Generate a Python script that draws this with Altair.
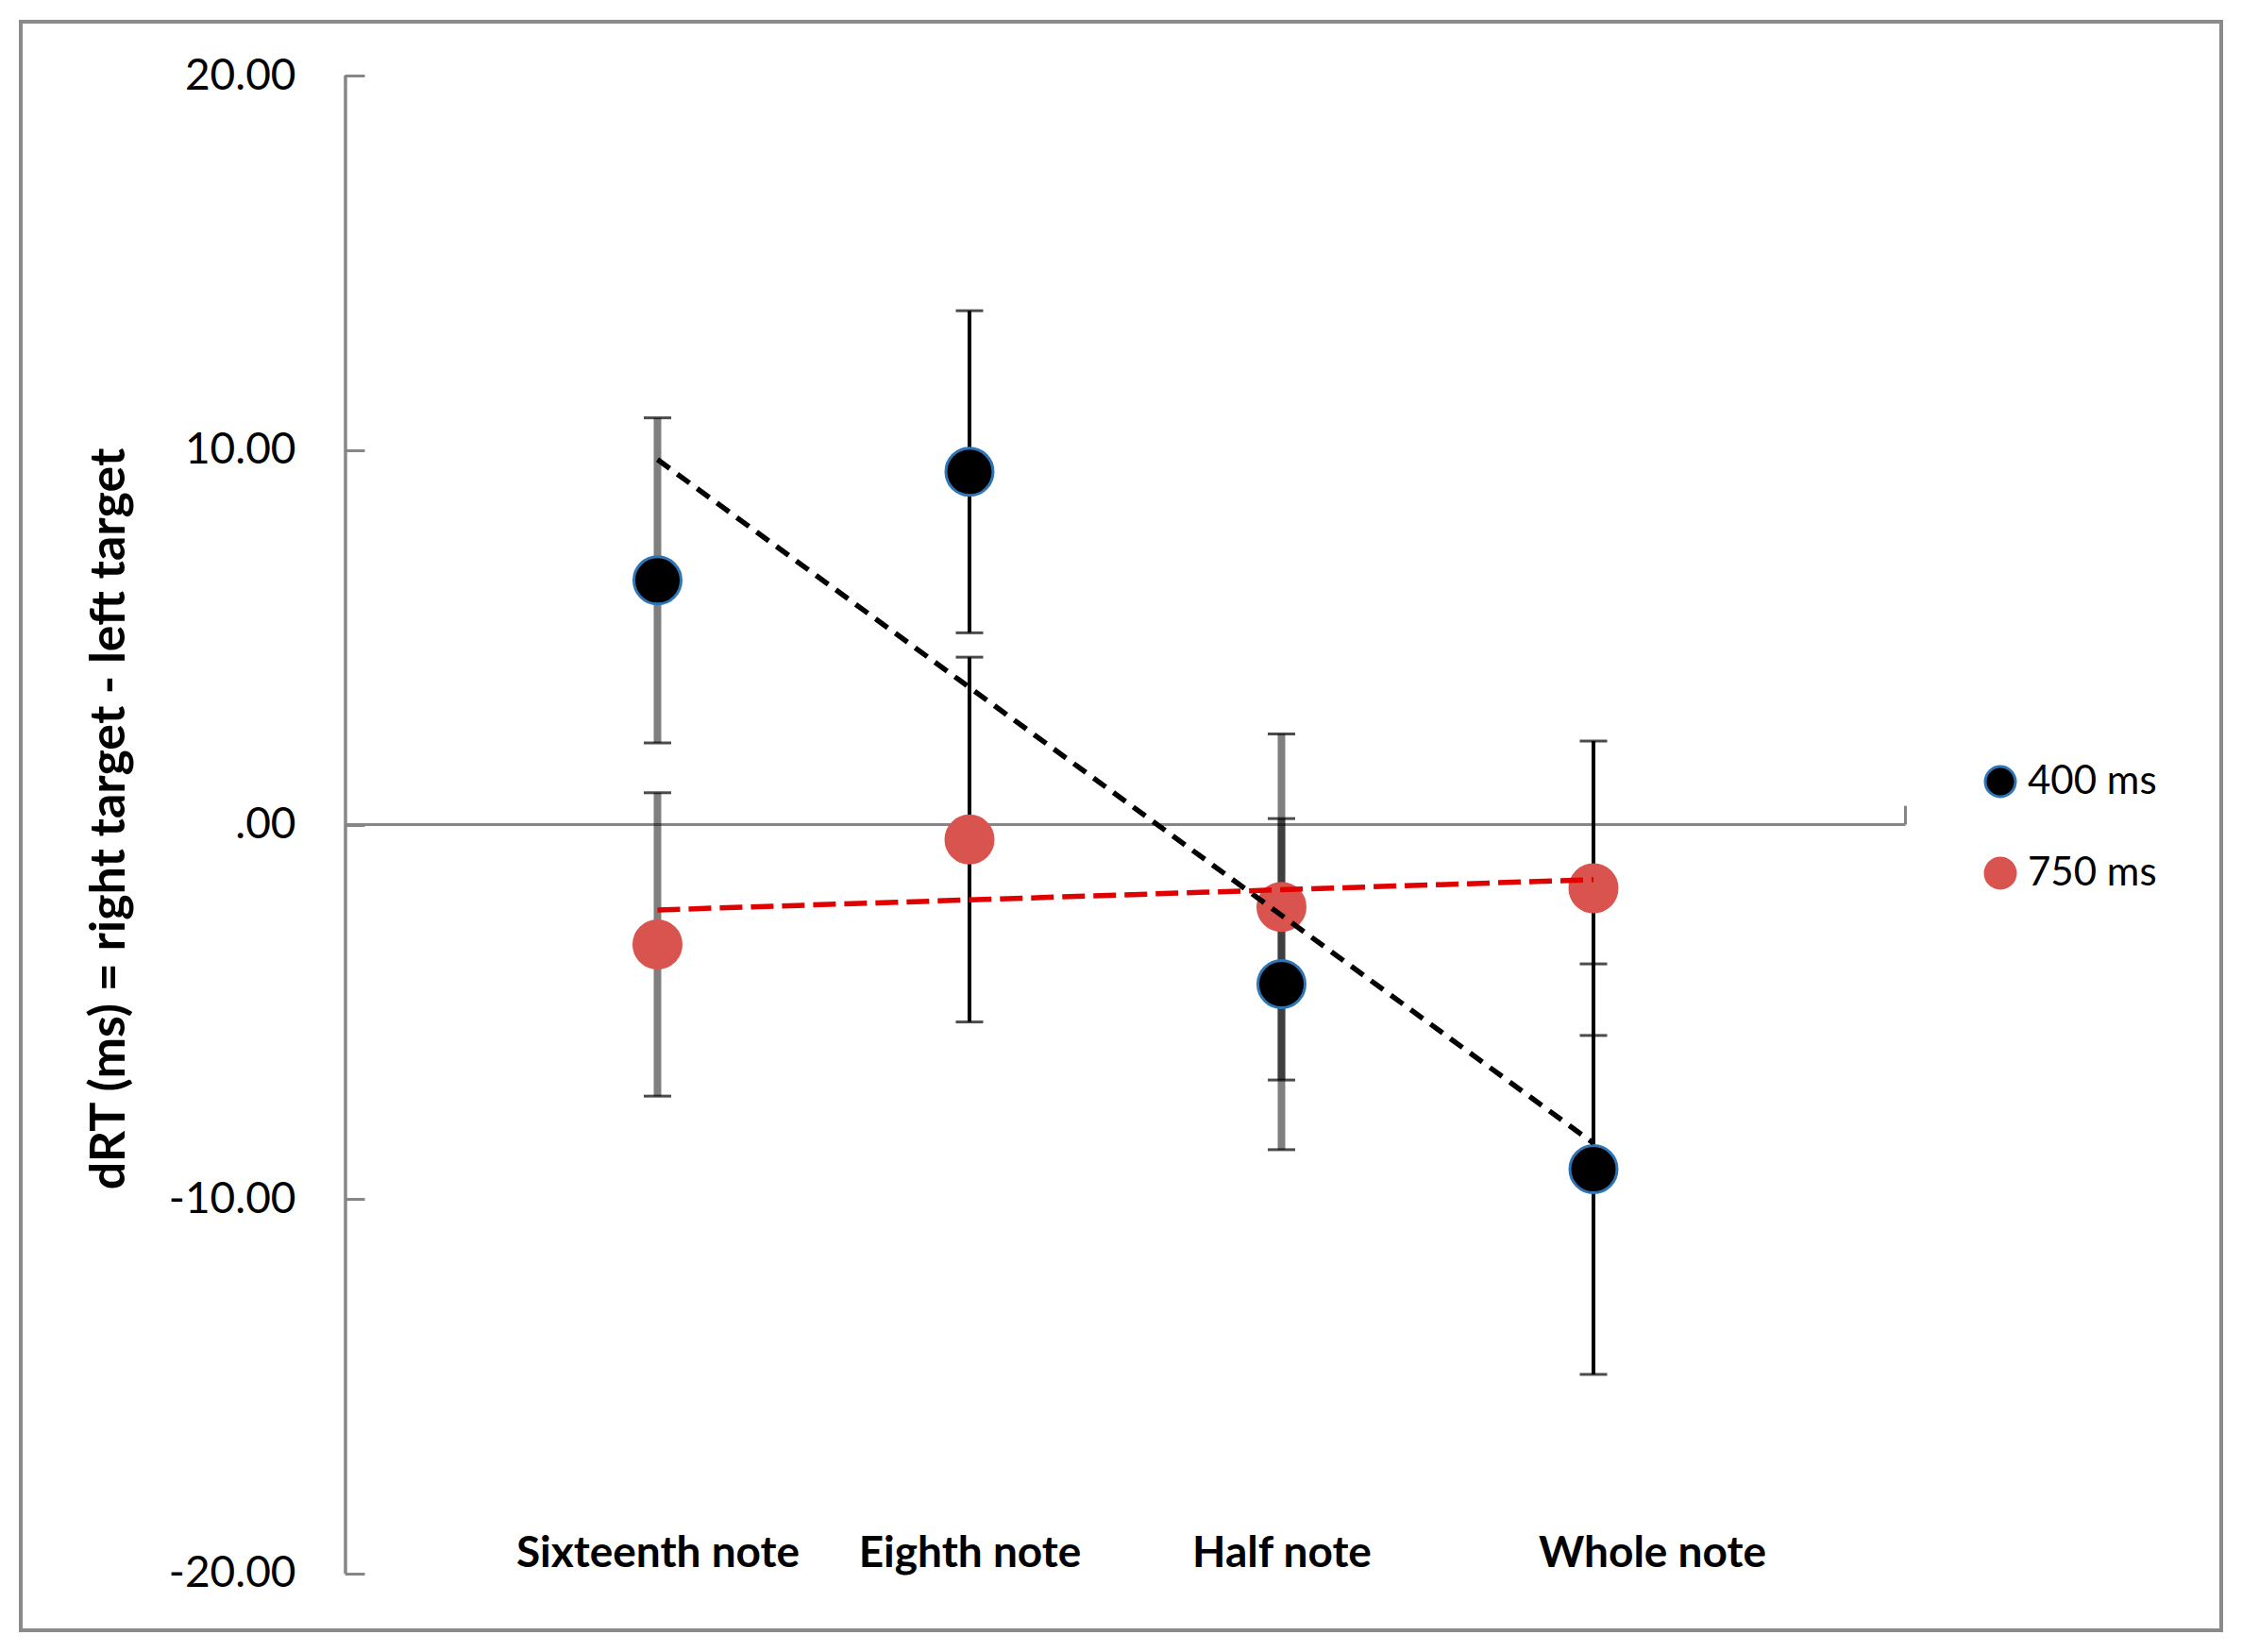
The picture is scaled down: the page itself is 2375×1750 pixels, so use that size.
import altair as alt
import pandas as pd

# ---- data ----
notes = ["Sixteenth note", "Eighth note", "Half note", "Whole note"]
note_pos = [1, 2, 3, 4]
series = ["400 ms", "750 ms"]
mean_400 = [6.52, 9.42, -4.26, -9.20]
err_400 = [4.34, 4.30, 4.42, 5.48]
mean_750 = [-3.20, -0.40, -2.20, -1.70]
err_750 = [4.05, 4.87, 4.62, 3.93]
y_ticks = [-20, -10, 0, 10, 20]
y_title = "dRT (ms) = right target - left target"

rows = []
for s, means, errs in ((series[0], mean_400, err_400), (series[1], mean_750, err_750)):
    for n, p, m, e in zip(notes, note_pos, means, errs):
        rows.append({"series": s, "note": n, "pos": p, "mean": m, "lo": m - e, "hi": m + e})
df = pd.DataFrame(rows)

FONT = "Lato"
GRAY = "#868686"

x_scale = alt.Scale(domain=[-1.0408, 6.0121], nice=False, zero=False)
y_scale = alt.Scale(domain=[-21.5123, 21.4367], nice=False, zero=False)

label_expr = "[" + ",".join("'" + n + "'" for n in [""] + notes) + "][datum.value]"

x_axis = alt.Axis(
    values=note_pos, labelExpr=label_expr, title=None, grid=False, ticks=False,
    tickSize=0, domain=False, labelFontSize=46, labelFontWeight="bold",
    labelFont=FONT, labelColor="black", labelPadding=0, offset=-104,
    labelOffset={"condition": {"test": "datum.value === 4", "value": 62}, "value": 0},
    labelFlush=False, labelOverlap=False, labelLimit=0,
)
y_axis = alt.Axis(
    values=y_ticks,
    labelExpr=("datum.value == 0 ? '.00' : (datum.value < 0 ? '-' + format(-datum.value, '.2f')"
               " : format(datum.value, '.2f'))"),
    title=y_title, titleFontSize=52, titleFontWeight="bold", titleFont=FONT,
    titleColor="black", titleX=-271, titleY=844, titleAngle=270,
    titleBaseline="middle", titleAlign="center", titleLimit=0,
    grid=False, domain=False, ticks=True, tickSize=21, tickWidth=3,
    tickColor=GRAY, labelFontSize=46, labelFont=FONT, labelColor="black",
    labelPadding=52, offset=-364, labelFlush=False, labelOverlap=False, labelLimit=0,
)


def X(field):
    return alt.X(field, type="quantitative", scale=x_scale, axis=x_axis)


def Y(field):
    return alt.Y(field, type="quantitative", scale=y_scale, axis=y_axis)


one = pd.DataFrame({"k": [0]})

# axis lines (zero line across categories, y axis line, end tick)
zero_line = alt.Chart(one).mark_rule(color=GRAY, strokeWidth=3).encode(
    x=alt.X(datum=0, type="quantitative", scale=x_scale, axis=x_axis),
    x2=alt.datum(5),
    y=alt.Y(datum=0, type="quantitative", scale=y_scale, axis=y_axis),
)
y_line = alt.Chart(one).mark_rule(color=GRAY, strokeWidth=3.5).encode(
    x=alt.X(datum=0, type="quantitative", scale=x_scale, axis=x_axis),
    y=alt.Y(datum=-20, type="quantitative", scale=y_scale, axis=y_axis),
    y2=alt.datum(20),
)
end_tick = alt.Chart(one).mark_rule(color=GRAY, strokeWidth=3).encode(
    x=alt.X(datum=5, type="quantitative", scale=x_scale, axis=x_axis),
    y=alt.Y(datum=0, type="quantitative", scale=y_scale, axis=y_axis),
    y2=alt.datum(0.5),
)

thick_test = "datum.note == '" + notes[0] + "' || datum.note == '" + notes[2] + "'"

err_rules = alt.Chart(df).mark_rule(color="black").encode(
    x=X("pos"), y=Y("lo"), y2="hi",
    strokeWidth=alt.condition(thick_test, alt.value(8), alt.value(4)),
    opacity=alt.condition(thick_test, alt.value(0.5), alt.value(1.0)),
)
cap_lo = alt.Chart(df).mark_tick(orient="horizontal", size=29, thickness=3, color="black").encode(
    x=X("pos"), y=Y("lo")
)
cap_hi = alt.Chart(df).mark_tick(orient="horizontal", size=29, thickness=3, color="black").encode(
    x=X("pos"), y=Y("hi")
)

legend = alt.Legend(
    title=None, orient="none", legendX=2076, legendY=784, labelFontSize=42,
    labelFont=FONT, labelColor="black", symbolSize=1024, symbolStrokeWidth=3,
    labelOffset=8, rowPadding=53, padding=0, symbolType="circle",
)

points = alt.Chart(df).mark_circle(size=2500, opacity=1, strokeWidth=3).encode(
    x=X("pos"), y=Y("mean"),
    fill=alt.Fill("series:N", scale=alt.Scale(domain=series, range=["#000000", "#D9534F"]), legend=legend),
    stroke=alt.Stroke("series:N", scale=alt.Scale(domain=series, range=["#2E75B6", "#D9534F"]), legend=legend),
)

trend_400 = alt.Chart(df).transform_filter(
    alt.datum.series == series[0]
).transform_regression("pos", "mean").mark_line(
    color="black", strokeDash=[16, 10], strokeWidth=5.5
).encode(x=X("pos"), y=Y("mean"))

trend_750 = alt.Chart(df).transform_filter(
    alt.datum.series == series[1]
).transform_regression("pos", "mean").mark_line(
    color="#E00000", strokeDash=[24, 9], strokeWidth=5.5
).encode(x=X("pos"), y=Y("mean"))

chart = alt.layer(
    zero_line, y_line, end_tick, err_rules, cap_lo, cap_hi, points, trend_400, trend_750
).properties(
    width=2331, height=1704,
    padding={"left": 14, "top": 15, "right": 6, "bottom": 6},
    autosize=alt.AutoSizeParams(type="none"),
    background="white",
).configure(
    font=FONT,
    view=alt.ViewConfig(stroke="#8a8a8a", strokeWidth=4),
)

chart.save("out.html", embed_options={"renderer": "svg", "actions": False})
